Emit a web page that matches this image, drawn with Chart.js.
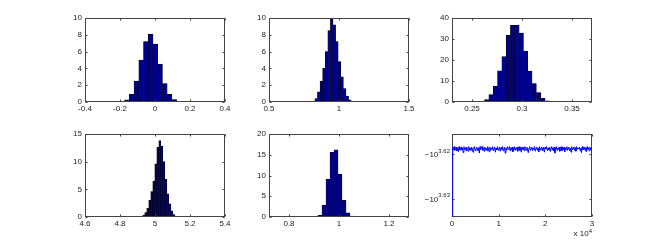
<!DOCTYPE html>
<html><head><meta charset="utf-8">
<script src="https://cdn.jsdelivr.net/npm/chart.js@4.4.0/dist/chart.umd.min.js"></script>
<style>
html,body{margin:0;padding:0;background:#fff;width:654px;height:245px;overflow:hidden;position:relative}
canvas{position:absolute}
</style></head><body>
<canvas id="c1"></canvas><canvas id="c2"></canvas><canvas id="c3"></canvas>
<canvas id="c4"></canvas><canvas id="c5"></canvas><canvas id="c6"></canvas>
<script>
// ---------- data ----------
const h1Centers = [-0.214,-0.187,-0.160,-0.133,-0.106,-0.079,-0.052,-0.025,0.002,0.029,0.056,0.083,0.110,0.137,0.164];
const h1Heights = [0.03,0.06,0.25,0.9,2.5,5.0,7.2,8.1,6.9,4.5,2.2,0.9,0.3,0.08,0.02];
const x1Ticks = [-0.4,-0.2,0,0.2,0.4];

const h2Centers = [0.8185,0.8370,0.8555,0.8740,0.8925,0.9110,0.9295,0.9480,0.9665,0.9850,1.0035,1.0220,1.0405,1.0590,1.0775,1.0960];
const h2Heights = [0.1,0.4,1.2,2.5,4.0,6.0,8.5,10.0,9.2,7.2,4.8,3.0,1.6,0.7,0.25,0.07];
const x2Ticks = [0.5,1,1.5];

const h3Centers = [0.2604,0.2647,0.2690,0.2734,0.2777,0.2820,0.2863,0.2906,0.2950,0.2993,0.3036,0.3079,0.3122,0.3166,0.3209,0.3252,0.3295];
const h3Heights = [0.3,1.1,3.5,7.5,14.9,21.6,31.8,36.5,36.5,32.8,24.3,14.7,8.8,4.5,1.8,0.6,0.2];
const x3Ticks = [0.25,0.3,0.35];

const h4Centers = [4.9240,4.9355,4.9470,4.9585,4.9700,4.9815,4.9930,5.0045,5.0160,5.0275,5.0390,5.0505,5.0620,5.0735,5.0850,5.0965,5.1080,5.1195];
const h4Heights = [0.1,0.3,0.8,1.6,3.0,4.6,6.5,9.6,12.6,13.8,12.8,10.0,6.8,4.2,2.4,1.1,0.45,0.15];
const x4Ticks = [4.6,4.8,5,5.2,5.4];

const h5Centers = [0.908,0.924,0.940,0.956,0.972,0.988,1.004,1.020,1.036,1.052,1.068];
const h5Heights = [0.05,0.4,2.9,9.1,15.6,16.2,10.3,4.0,1.0,0.2,0.03];
const x5Ticks = [0.8,1,1.2];

const traceValues = [-4420,
-4154,-4159,-4152,-4160,-4156,-4153,-4161,-4155,-4163,-4152,-4158,-4160,-4153,-4159,-4155,-4165,-4152,-4158,-4154,-4161,
-4153,-4157,-4162,-4152,-4159,-4155,-4160,-4153,-4157,-4164,-4154,-4152,-4159,-4161,-4153,-4156,-4160,-4154,-4166,-4152,
-4158,-4154,-4152,-4160,-4156,-4162,-4153,-4159,-4155,-4161,-4152,-4157,-4163,-4153,-4160,-4155,-4158,-4152,-4161,-4156,
-4153,-4164,-4155,-4159,-4152,-4160,-4157,-4153,-4162,-4154,-4158,-4152,-4161,-4156,-4153,-4166,-4155,-4160,-4152,-4158,
-4156,-4152,-4161,-4154,-4159,-4153,-4163,-4157,-4152,-4160,-4155,-4158,-4153,-4162,-4156,-4152,-4160,-4154,-4164,-4153,
-4158,-4154,-4161,-4152,-4157,-4160,-4153,-4159,-4165,-4155,-4152,-4160,-4156,-4153,-4161,-4155,-4158,-4152,-4162,-4156,
-4153,-4160,-4155,-4163,-4152,-4159,-4156,-4153,-4161,-4154,-4158,-4164,-4153,-4157,-4152,-4160,-4155,-4159,-4153,-4162,
-4156,-4152,-4159,-4154,-4161,-4153,-4166,-4157,-4152,-4160,-4155,-4158,-4153,-4162,-4156,-4152,-4161,-4154,-4159,-4153,
-4163,-4155,-4158,-4152,-4160,-4156,-4153,-4161,-4155,-4164,-4152,-4159,-4156,-4153,-4160,-4154,-4162,-4152,-4158,-4155,
-4156,-4153,-4161,-4155,-4165,-4152,-4159,-4156,-4153,-4160,-4154,-4163,-4152,-4158,-4155,-4161,-4153,-4157,-4160,-4154];
const traceStep = 150;
const x6TickValues = [0,10000,20000,30000];
const x6TickLabels = ['0','1','2','3'];
const y6TickValues = [-4265.80,-4168.69];
const y6TickExps = ['3.63','3.62'];

// ---------- layout / style ----------
const FONT = '"Liberation Sans", Arial, Helvetica, sans-serif';
const PAD_L = 32, PAD_T = 8, PAD_R = 14;
const TXT = '#222';

function drawBox(chart){
  const {ctx, chartArea:a, scales} = chart;
  ctx.save();
  ctx.strokeStyle = '#444'; ctx.lineWidth = 1;
  const L = Math.round(a.left)+0.5, R = Math.round(a.right)-0.5, T = Math.round(a.top)+0.5, B = Math.round(a.bottom)-0.5;
  ctx.strokeRect(L, T, R-L, B-T);
  const tl = 2;
  ctx.beginPath();
  scales.x.ticks.forEach(t=>{ const p = Math.round(scales.x.getPixelForValue(t.value))+0.5; ctx.moveTo(p,B); ctx.lineTo(p,B-tl); ctx.moveTo(p,T); ctx.lineTo(p,T+tl); });
  scales.y.ticks.forEach(t=>{ const p = Math.round(scales.y.getPixelForValue(t.value))+0.5; ctx.moveTo(L,p); ctx.lineTo(L+tl,p); ctx.moveTo(R,p); ctx.lineTo(R-tl,p); });
  ctx.stroke();
  ctx.restore();
}
const axesBoxUnder = { id:'axesBoxUnder', beforeDatasetsDraw: drawBox };
const axesBoxOver = { id:'axesBoxOver', afterDraw: drawBox };

function place(id, box, padB){
  const cv = document.getElementById(id);
  cv.width = PAD_L + box.w + PAD_R; cv.height = PAD_T + box.h + padB;
  cv.style.left = (box.x - PAD_L)+'px'; cv.style.top = (box.y - PAD_T)+'px';
  return cv;
}

function baseOptions(xMin, xMax, xTicks, xLabel, yMin, yMax, yTicks, yLabel, padB){
  return {
    responsive:false, animation:false, events:[],
    layout:{padding:{top:PAD_T,right:PAD_R,left:0,bottom:0}},
    plugins:{legend:{display:false}, tooltip:{enabled:false}},
    scales:{
      x:{type:'linear', min:xMin, max:xMax, offset:false,
         grid:{display:false,drawTicks:false,offset:false}, border:{display:false},
         afterBuildTicks:s=>{ s.ticks = xTicks.map(v=>({value:v})); },
         ticks:{font:{family:FONT,size:8}, color:TXT, padding:2, maxRotation:0, autoSkip:false, callback:xLabel},
         afterFit:s=>{ s.height = padB; }},
      y:{type:'linear', min:yMin, max:yMax,
         grid:{display:false,drawTicks:false}, border:{display:false},
         afterBuildTicks:s=>{ s.ticks = yTicks.map(v=>({value:v})); },
         ticks:{font:{family:FONT,size:8}, color:TXT, padding:3, autoSkip:false, callback:yLabel},
         afterFit:s=>{ s.width = PAD_L; }}
    }
  };
}

function makeHist(id, box, centers, heights, xMin, xMax, xTicks, yMax, yStep){
  const padB = 22;
  const cv = place(id, box, padB);
  const yTicks = [];
  for (let v = 0; v <= yMax + 1e-9; v += yStep) yTicks.push(v);
  new Chart(cv, {
    type:'bar',
    data:{datasets:[{
      data: centers.map((c,i)=>({x:c, y:heights[i]})),
      backgroundColor:'rgb(0,0,143)', borderColor:'#000', borderWidth:0.6,
      barPercentage:1, categoryPercentage:1
    }]},
    options: baseOptions(xMin, xMax, xTicks, v=>String(v), 0, yMax, yTicks, v=>String(v), padB),
    plugins:[axesBoxOver]
  });
}

makeHist('c1', {x:85, y:18, w:140, h:84}, h1Centers, h1Heights, -0.4, 0.4, x1Ticks, 10, 2);
makeHist('c2', {x:269, y:18, w:140, h:84}, h2Centers, h2Heights, 0.5, 1.5, x2Ticks, 10, 2);
makeHist('c3', {x:452, y:18, w:140, h:84}, h3Centers, h3Heights, 0.23, 0.37, x3Ticks, 40, 10);
makeHist('c4', {x:85, y:134, w:140, h:83}, h4Centers, h4Heights, 4.6, 5.4, x4Ticks, 15, 5);
makeHist('c5', {x:269, y:134, w:140, h:83}, h5Centers, h5Heights, 0.72, 1.28, x5Ticks, 20, 5);

// trace plot
const logLabels = {
  id:'logLabels',
  afterDraw(chart){
    const {ctx, chartArea:a, scales:{y}} = chart;
    ctx.save();
    ctx.fillStyle = TXT; ctx.textBaseline = 'middle'; ctx.textAlign = 'right';
    y6TickValues.forEach((v,i)=>{
      const p = y.getPixelForValue(v);
      const sx = a.left - 2;
      ctx.font = '6px ' + FONT;
      ctx.fillText(y6TickExps[i], sx, p - 3.5);
      const w = ctx.measureText(y6TickExps[i]).width;
      ctx.font = '8px ' + FONT;
      ctx.fillText('\u221210', sx - w, p + 0.5);
    });
    ctx.font = '6px ' + FONT;
    ctx.fillText('4', a.right, a.bottom + 14);
    const w4 = ctx.measureText('4').width;
    ctx.font = '8px ' + FONT;
    ctx.fillText('x 10', a.right - w4, a.bottom + 17);
    ctx.restore();
  }
};
(function(){
  const padB = 28;
  const box = {x:452, y:134, w:140, h:83};
  const cv = place('c6', box, padB);
  new Chart(cv, {
    type:'line',
    data:{datasets:[{
      data: traceValues.map((v,i)=>({x:i*traceStep, y:v})),
      borderColor:'#0000ff', borderWidth:1, pointRadius:0, tension:0, fill:false
    }]},
    options: baseOptions(0, 30000, x6TickValues, (v,i)=>x6TickLabels[i], -4304.4, -4124.6, y6TickValues, ()=>'', padB),
    plugins:[axesBoxUnder, logLabels]
  });
})();
</script>
</body></html>
